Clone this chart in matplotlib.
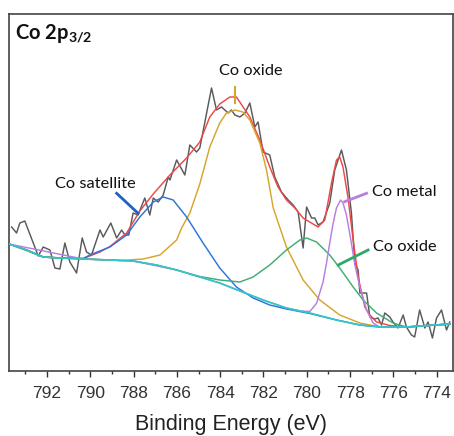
import matplotlib
matplotlib.use("Agg")
import matplotlib.pyplot as plt
from matplotlib.ticker import MultipleLocator

# ---------------- data (binding energy in eV, intensity in arb. units) ----------------
raw_be = [793.63, 793.40, 793.25, 793.02, 792.40, 792.17, 791.86, 791.63, 791.40, 791.17,
          790.94, 790.63, 790.37, 790.17, 789.94, 789.55, 789.40, 789.05, 788.78, 788.55,
          788.40, 788.22, 788.02, 787.79, 787.48, 787.25, 787.09, 786.86, 786.63, 786.40,
          786.32, 786.01, 785.63, 785.40, 785.09, 784.94, 784.40, 784.17, 783.94, 783.63,
          783.48, 783.32, 783.09, 782.86, 782.63, 782.40, 782.25, 782.02, 781.71, 781.48,
          781.17, 780.86, 780.63, 780.40, 780.17, 780.01, 779.78, 779.63, 779.48, 779.25,
          778.94, 778.71, 778.40, 778.17, 777.94, 777.78, 777.63, 777.55, 777.24, 777.09,
          776.86, 776.71, 776.55, 776.40, 776.17, 776.02, 775.79, 775.55, 775.40, 775.17,
          775.02, 774.79, 774.55, 774.40, 774.20, 774.01, 773.78, 773.55, 773.40]
raw_int = [144, 138, 148, 150, 115, 124, 121, 103, 102, 128,
           109, 98, 133, 119, 116, 141, 134, 148, 133, 141,
           136, 136, 158, 156, 173, 156, 173, 169, 176, 194,
           191, 211, 196, 226, 219, 223, 283, 261, 264, 258,
           261, 256, 254, 258, 268, 244, 249, 219, 216, 194,
           179, 171, 166, 159, 123, 164, 153, 153, 146, 149,
           168, 201, 221, 201, 158, 108, 101, 78, 78, 54,
           52, 53, 46, 58, 54, 49, 43, 56, 44, 36,
           34, 61, 43, 49, 33, 53, 61, 41, 49]

env_be = [793.75, 792.94, 792.17, 791.40, 790.32, 789.55, 789.09, 788.32, 787.71, 787.09,
          786.32, 785.55, 784.94, 784.48, 784.02, 783.55, 783.25, 782.63, 782.17, 781.71,
          781.33, 780.94, 780.55, 780.17, 779.48, 779.17, 778.86, 778.63, 778.48, 778.33,
          778.10, 777.86, 777.63, 777.32, 777.09, 776.78, 776.17, 775.40, 773.40]
env_int = [127, 121, 114, 113, 112.5, 119, 124.5, 138, 160, 177,
           196, 213, 229, 254, 267, 274, 274, 254, 231, 204,
           184, 171, 163, 153, 144, 151, 188, 211, 214, 204,
           174, 131, 94, 64, 56, 49, 45.5, 44, 47]

bg_be = [793.75, 792.94, 792.17, 791.40, 790.32, 789.09, 788.02, 786.94, 786.01, 784.94,
         784.02, 783.09, 782.02, 780.94, 779.86, 778.63, 777.55, 776.63, 775.40, 773.40]
bg_int = [127, 121, 114, 113, 112, 111, 110, 106, 101, 94,
          88, 80, 71, 63, 58, 51, 46, 44, 44, 47]

sat_be = [793.75, 792.94, 792.17, 791.40, 790.32, 790.02, 789.09, 788.32, 787.71, 787.09,
          786.63, 786.17, 785.55, 784.79, 784.02, 783.25, 782.48, 781.71, 780.94, 779.86,
          778.63, 777.55, 776.63, 775.40, 773.40]
sat_int = [127, 121, 114, 113, 112.5, 116, 124, 136, 154, 169,
           174, 171, 154, 128, 103, 84, 73, 66, 62, 57.5,
           51, 46, 44, 44, 47]

ox1_be = [793.75, 792.17, 790.32, 789.09, 788.63, 787.55, 786.78, 786.01, 785.78, 785.40,
          784.94, 784.48, 784.02, 783.71, 783.32, 782.95, 782.63, 782.17, 781.86, 781.55,
          780.94, 780.17, 779.40, 778.48, 777.55, 776.63, 775.40, 773.40]
ox1_int = [127, 114, 112, 111, 110.5, 112, 116, 131, 143, 158,
           187, 224, 248, 258, 261, 259, 251, 228, 201, 163,
           124, 91, 71, 56, 48, 44, 44, 47]

ox2_be = [793.75, 792.94, 792.17, 791.40, 790.32, 789.09, 788.02, 786.94, 786.01, 784.94,
          784.02, 783.09, 782.48, 781.71, 780.94, 780.32, 780.01, 779.55, 778.94, 778.48,
          777.86, 777.40, 776.78, 776.02, 775.40, 773.40]
ox2_int = [127, 121, 114, 113, 112, 111, 110, 106, 101, 94.5,
           91, 89, 94, 106, 121, 131, 133, 129, 116, 103,
           84, 71, 58, 48, 44, 47]

met_be = [793.75, 790.32, 788.02, 786.01, 784.02, 782.02, 780.94, 780.32, 779.86, 779.55,
          779.25, 779.09, 778.94, 778.79, 778.63, 778.44, 778.33, 778.17, 777.94, 777.78,
          777.55, 777.24, 776.94, 776.63, 775.40, 773.40]
met_int = [127, 112, 110, 101, 88, 71, 63, 60, 59.5, 67.7,
           89, 108, 128, 147, 163, 171, 168, 156, 127.7, 106,
           84, 61, 48, 44, 44, 47]

x_ticks = [792, 790, 788, 786, 784, 782, 780, 778, 776, 774]

# ---------------- figure ----------------
plt.rcParams['mathtext.fontset'] = 'custom'
plt.rcParams['mathtext.rm'] = 'Lato'
plt.rcParams['mathtext.bf'] = 'Lato:bold'

fig = plt.figure(figsize=(4.54, 4.36), dpi=100)
ax = fig.add_axes([9/454, 1 - 371/436, 444/454, 357/436])

lw = 1.05
ax.plot(raw_be, raw_int, color='#5a5a5a', lw=1.05, zorder=2)
ax.plot(env_be, env_int, color='#EE4848', lw=lw, zorder=3)
ax.plot(ox1_be, ox1_int, color='#D6A52C', lw=lw, zorder=4)
ax.plot(sat_be, sat_int, color='#2F74D8', lw=lw, zorder=4)
ax.plot(ox2_be, ox2_int, color='#3FAE72', lw=lw, zorder=4)
ax.plot(met_be, met_int, color='#B87FE0', lw=lw, zorder=4)
ax.plot(bg_be, bg_int, color='#2DC8C8', lw=1.2, zorder=5)

ax.set_xlim(793.75, 773.25)
ax.set_ylim(0, 357)

ax.set_xticks(x_ticks)
ax.xaxis.set_minor_locator(MultipleLocator(1))
ax.tick_params(axis='x', which='major', direction='out', length=4.5, width=1.0,
               color='#333333', labelsize=12.5, labelcolor='#333333', pad=6.5)
ax.tick_params(axis='x', which='minor', direction='out', length=2.5, width=1.0, color='#333333')
ax.set_yticks([])
for lab in ax.get_xticklabels():
    lab.set_fontfamily('Liberation Sans')
for s in ax.spines.values():
    s.set_color('#444444')
    s.set_linewidth(1.2)

ax.set_xlabel('Binding Energy (eV)', fontfamily='Liberation Sans', fontsize=15.5,
              color='#222222', labelpad=9)

tfont = dict(family='Lato', fontsize=11.8, color='#111111')
ax.text(0.0135, 0.945, r'Co 2p$_{\mathbf{3/2}}$', transform=ax.transAxes,
        family='Lato', fontweight='bold', fontsize=14.5, va='center', ha='left', color='#111111')

ax.text(782.59, 300, 'Co oxide', ha='center', va='center', **tfont)
ax.plot([783.32, 783.32], [284.3, 267.7], color='#D6A52C', lw=1.5, zorder=6)

ax.text(789.74, 187, 'Co satellite', ha='center', va='center', **tfont)
ax.plot([788.78, 787.79], [177.7, 157.7], color='#1F5FC8', lw=2.0, zorder=6)

ax.text(777.01, 179.3, 'Co metal', ha='left', va='center', **tfont)
ax.plot([777.24, 778.25], [177.7, 169.3], color='#B87FE0', lw=2.0, zorder=6)

ax.text(776.95, 124.3, 'Co oxide', ha='left', va='center', **tfont)
ax.plot([777.17, 778.55], [121, 106], color='#2EA866', lw=2.0, zorder=6)

fig.savefig('out.png', dpi=100)
